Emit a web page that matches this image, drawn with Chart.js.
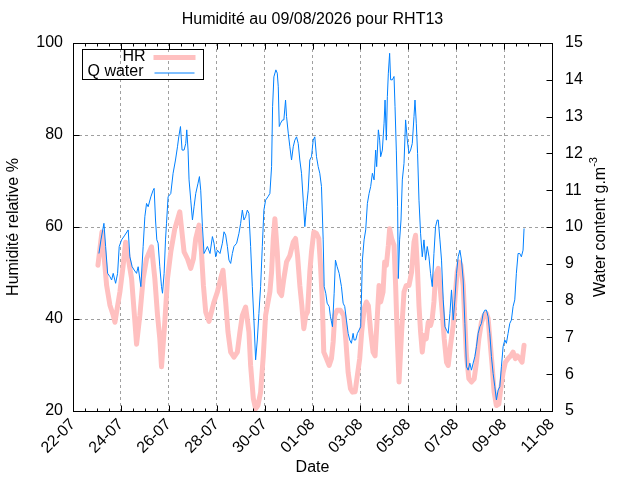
<!DOCTYPE html>
<html>
<head>
<meta charset="utf-8">
<script src="https://cdn.jsdelivr.net/npm/chart.js@4.4.1/dist/chart.umd.min.js"></script>
<style>
  body { margin: 0; background: #fff; }
  #wrap { width: 640px; height: 480px; }
</style>
</head>
<body>
<div id="wrap"><canvas id="myChart" width="640" height="480"></canvas></div>
<script>
// hours since 22-07 00:00
const tickLabels = ['22-07', '24-07', '26-07', '28-07', '30-07', '01-08', '03-08', '05-08', '07-08', '09-08', '11-08'];

const hrHours = [25, 29, 33.7, 37, 40.3, 42, 47, 50.3, 52.7, 58.7, 61.3, 63.7, 67, 70.3, 73.7, 78.7, 82, 84.7, 87, 88.7,
    92, 94.7, 98, 102, 107, 111.3, 114.7, 118, 120.7, 123, 126.3, 128.7, 130.7, 133, 136.3, 141.3, 144.7, 148, 150.3, 153,
    155.3, 158, 161.3, 164.7, 167.3, 169.7, 173, 176.3, 178, 180.7, 183, 185.3, 188, 190.7, 193, 197.3, 199, 200.7, 202.3, 204.7,
    206.7, 209, 211.3, 214, 217.3, 220.7, 223, 225, 227.3, 229.3, 231.3, 233.3, 235, 237.3, 239, 241.3, 244, 246.3, 248, 249.7,
    251.3, 254, 256.7, 259, 260.7, 262.3, 264.7, 268, 271.3, 273.3, 275.7, 278, 280, 282.7, 285, 287.3, 289.3, 291.7, 294, 296,
    298.3, 300.7, 302.7, 305, 306.7, 308.3, 310.7, 312.3, 314, 316, 317.3, 319.3, 321.7, 323.3, 325, 326.7, 329.3, 331.7, 334, 336.7,
    339.3, 341.7, 343.3, 345, 346.7, 348.3, 350, 351.7, 354, 356, 358.3, 360, 361.7, 363.3, 366, 367.7, 370, 372, 374.3, 376,
    378.3, 381, 382.7, 385, 387, 388.7, 391, 392.7, 394.3, 396.7, 399.3, 402, 404.3, 406.7, 409.3, 412, 414.3, 416, 417.7, 420,
    422, 424.3, 426.7, 428.7, 431, 433.3, 436, 438.7, 441, 443.3, 445.3, 447.7, 450, 452];
const hrValues = [51.7, 58.9, 47.3, 43, 40.8, 39.3, 45.9, 51.7, 56.7, 48.8, 41.5, 34.5, 40.8, 48.8, 53.1, 55.7, 48.8, 40.8, 35.7, 29.6,
    39.3, 48.8, 54.6, 59.6, 63.3, 54.6, 53.1, 51, 53.1, 57.5, 60.4, 54.6, 47.3, 41.5, 39.5, 43.7, 45.9, 48.8, 50.6, 43.7,
    37.2, 32.8, 31.7, 32.8, 37.2, 40.8, 42.6, 37.2, 29.9, 22.7, 20.5, 21.2, 24.1, 32, 40.8, 45.9, 50.2, 57.5, 61.8, 54.6,
    45.9, 45.1, 48.8, 52.4, 53.8, 56.7, 57.5, 53.8, 47.3, 43, 37.9, 40.8, 41.5, 50.2, 54.6, 58.9, 58.6, 57.5, 51.7, 44.4,
    32.8, 31.4, 29.9, 31.4, 35, 40.8, 41.9, 41.9, 40.8, 35.7, 28.4, 24.9, 24.1, 24.2, 27.8, 31.4, 37.2, 42.2, 43.7, 42.9,
    37.2, 32.8, 32, 40.8, 47.3, 43.7, 45.9, 52.4, 51.7, 56, 59.6, 57.5, 56, 47.3, 35.7, 26.3, 37.2, 45.9, 47.3, 47.3,
    50.2, 56.7, 58.2, 51.7, 42.9, 37.2, 32.8, 36.4, 35.7, 39.3, 38.6, 40.1, 43.7, 49.5, 51, 47.3, 41.5, 35.7, 30.6, 29.9,
    34.3, 38.6, 44.4, 50.2, 52.4, 51.7, 47.3, 39.3, 32, 27, 26.3, 27, 30.6, 35.7, 39.3, 40.8, 41.2, 40.1, 35.7, 29.9,
    24.1, 21.2, 21.5, 24.9, 28.4, 30.6, 31.4, 32, 32.8, 31.4, 32, 31.4, 30.6, 34.3];

const qwHours = [26, 28, 31, 32.7, 34.7, 37, 38.7, 40.3, 42.7, 44.7, 46.3, 48.7, 52, 55.3, 57, 59.3, 61.3, 63.7, 65.3, 68,
    70.3, 72, 73.7, 75.3, 78, 80.3, 81.3, 82.7, 84, 85.3, 87, 88.7, 89.7, 91.3, 92.7, 93.7, 95.3, 98, 100.3, 102.7,
    104.7, 106, 107.7, 109.3, 111.3, 113, 114, 115.3, 116.3, 118, 119.7, 121.3, 123, 125.3, 126.7, 128, 129.7, 131.3, 133, 134.7,
    137.3, 139.7, 141.3, 143, 144.7, 147.3, 149.7, 151.3, 153, 154.7, 156.3, 158, 159.7, 161.3, 164, 166.3, 168, 169.7, 171.3, 173,
    174.7, 176.3, 178, 179.7, 181.3, 183, 184.7, 186.3, 188, 189.7, 191.3, 193, 195.3, 197.3, 199, 200, 201.3, 203.3, 204.7, 205.7,
    206.7, 208, 210, 211.3, 213, 214, 215.7, 217.3, 219, 220.7, 222.3, 224, 225.7, 227.3, 229, 230.7, 232.3, 234, 235.7, 237.3,
    239, 240.7, 242.3, 244, 245.7, 247.3, 249, 250.7, 251.7, 253.3, 254.7, 256.7, 258, 260, 261.7, 263, 264.7, 266.7, 269, 270.7,
    272.3, 274, 275.7, 277.3, 279, 280.7, 281.7, 283.3, 285, 286.7, 288.3, 290, 291.7, 293.3, 295, 296.7, 298.3, 300, 301.7, 303.3,
    304.3, 306, 307.3, 308.3, 310, 311.7, 312.7, 314, 315, 316, 317.3, 318.3, 320, 321.7, 322.7, 324, 325.3, 326, 327.3, 328.7,
    330, 331.7, 333.3, 335, 336.7, 338.3, 340, 341.7, 342.7, 344, 345.3, 346.7, 348.3, 350, 351.7, 353.3, 355, 356.7, 358.3, 360,
    361.7, 363.3, 365, 366, 367.7, 369.3, 371, 372.7, 374.3, 376, 377.7, 379.3, 381, 382.7, 384.3, 386, 387.7, 389.3, 391, 392.7,
    394.3, 396, 397.7, 399.3, 401, 402.7, 404.3, 406, 407.7, 409.3, 411, 412.7, 414.3, 416, 417.7, 419.3, 421, 422.7, 424.3, 426,
    427.7, 429.3, 431, 432.7, 434.3, 436, 437.7, 439.3, 441, 442.7, 444.3, 446, 447.7, 449.3, 451, 452];
const qwValues = [9.28, 9.65, 10.1, 9.47, 8.74, 8.65, 8.56, 8.74, 8.47, 8.74, 9.47, 9.65, 9.78, 9.92, 9.19, 8.92, 8.83, 8.74, 8.92, 8.38,
    9.47, 10.28, 10.64, 10.55, 10.82, 11, 11.05, 10.19, 9.65, 9.56, 8.92, 8.38, 8.2, 8.74, 9.65, 10.1, 10.82, 10.91, 11.46, 11.82,
    12.18, 12.45, 12.73, 12.09, 12.09, 12.27, 12.64, 12.09, 11.28, 10.73, 10.19, 10.55, 10.91, 11.19, 11.37, 11, 10.01, 9.28, 9.37, 9.47,
    9.28, 9.74, 9.56, 9.19, 9.37, 9.28, 9.56, 9.87, 9.78, 9.47, 9.1, 9.01, 9.28, 9.47, 9.56, 9.83, 10.1, 10.46, 10.19, 10.28,
    10.46, 10.37, 9.47, 8.38, 7.47, 6.39, 6.93, 7.65, 8.38, 9.47, 10.46, 10.73, 10.82, 10.91, 11.64, 13.27, 14.08, 14.27, 14.18, 13.81,
    12.73, 12.82, 12.91, 12.91, 13.45, 13, 12.55, 12.18, 11.82, 12.18, 12.36, 12.45, 12.27, 11.82, 11.46, 10.73, 10.01, 10.55, 11, 11.82,
    11.91, 12.36, 12.45, 11.91, 11.64, 11.46, 11.1, 9.65, 8.38, 8.2, 7.93, 7.84, 7.56, 7.29, 8.2, 9.1, 8.92, 8.74, 8.38, 7.93,
    7.84, 7.47, 7.11, 6.93, 6.84, 7.11, 6.93, 6.93, 7.11, 7.2, 7.29, 9.1, 9.65, 9.92, 10.64, 10.91, 11.1, 11.46, 11.28, 12.09,
    11.64, 12.64, 12.36, 11.91, 12.09, 12.82, 13.45, 12.36, 13.54, 14.18, 14.72, 14, 14, 14.09, 13.27, 12.09, 10.55, 8.6, 9.65, 10.19,
    11.28, 11.73, 12.91, 12.36, 12, 12.09, 12.27, 13, 13.45, 12.82, 12, 10.73, 9.83, 9.19, 9.65, 9.1, 9.47, 9.19, 8.74, 8.38,
    9.28, 10.01, 10.19, 10.19, 9.65, 9.1, 8.02, 7.29, 7.2, 7.11, 7.65, 8.29, 7.47, 8.02, 8.74, 9.19, 9.37, 9.1, 8.56, 7.38,
    6.2, 6.11, 6.3, 6.11, 6.3, 6.48, 6.75, 7.11, 7.29, 7.38, 7.65, 7.74, 7.74, 7.56, 7.11, 6.48, 6.02, 5.66, 5.3, 5.57,
    5.66, 6.2, 6.75, 6.93, 6.84, 7.11, 7.38, 7.47, 7.84, 8.02, 8.74, 9.28, 9.28, 9.19, 9.37, 9.96];

const yTicks = [20, 40, 60, 80, 100];
const y2Ticks = [5, 6, 7, 8, 9, 10, 11, 12, 13, 14, 15];

const FONT = '"Liberation Sans", Arial, sans-serif';
const pinkColor = '#ffc0c0';
const blueColor = '#0080ff';

// inward tick marks and the plot frame, gnuplot style
const frameTicks = {
    id: 'frameTicks',
    afterDatasetsDraw(chart) {
        const ctx = chart.ctx;
        const a = chart.chartArea;
        const sx = chart.scales.x, sy = chart.scales.y, sy2 = chart.scales.y2;
        const L = Math.round(a.left) + 0.5, R = Math.round(a.right) + 0.5;
        const T = Math.round(a.top) + 0.5, B = Math.round(a.bottom) + 0.5;
        ctx.save();
        ctx.strokeStyle = '#000';
        ctx.lineWidth = 1;
        ctx.beginPath();
        for (let h = 0; h <= 480; h += 12) {
            const px = Math.round(sx.getPixelForValue(h)) + 0.5;
            const len = h % 48 === 0 ? 6 : 3;
            ctx.moveTo(px, B); ctx.lineTo(px, B - len);
            ctx.moveTo(px, T); ctx.lineTo(px, T + len);
        }
        yTicks.forEach(function (v) {
            const py = Math.round(sy.getPixelForValue(v)) + 0.5;
            ctx.moveTo(L, py); ctx.lineTo(L + 6, py);
        });
        y2Ticks.forEach(function (v) {
            const py = Math.round(sy2.getPixelForValue(v)) + 0.5;
            ctx.moveTo(R, py); ctx.lineTo(R - 6, py);
        });
        ctx.stroke();
        ctx.strokeRect(L, T, R - L, B - T);
        ctx.restore();
    }
};

// key box in the top left corner + right axis title with superscript
const keyAndTitle = {
    id: 'keyAndTitle',
    afterDraw(chart) {
        const ctx = chart.ctx;
        const a = chart.chartArea;
        const bx = Math.round(a.left) + 9.5, by = Math.round(a.top) + 6.5;
        ctx.save();
        ctx.strokeStyle = '#000';
        ctx.lineWidth = 1;
        ctx.strokeRect(bx, by, 121, 30);
        ctx.font = '16px ' + FONT;
        ctx.fillStyle = '#000';
        ctx.textAlign = 'right';
        ctx.textBaseline = 'middle';
        ctx.fillText('HR', bx + 63, by + 7);
        ctx.fillText('Q water', bx + 61, by + 22);
        ctx.lineWidth = 5;
        ctx.strokeStyle = pinkColor;
        ctx.beginPath(); ctx.moveTo(bx + 71, by + 8); ctx.lineTo(bx + 113, by + 8); ctx.stroke();
        ctx.lineWidth = 1;
        ctx.strokeStyle = blueColor;
        ctx.beginPath(); ctx.moveTo(bx + 72, by + 23.5); ctx.lineTo(bx + 112, by + 23.5); ctx.stroke();

        // right axis title
        const main = 'Water content g.m';
        const sup = '-3';
        ctx.font = '16px ' + FONT;
        const w1 = ctx.measureText(main).width;
        ctx.font = '11px ' + FONT;
        const w2 = ctx.measureText(sup).width;
        const cy = (a.top + a.bottom) / 2;
        ctx.translate(601, cy);
        ctx.rotate(-Math.PI / 2);
        ctx.textAlign = 'left';
        ctx.fillStyle = '#000';
        ctx.font = '16px ' + FONT;
        ctx.fillText(main, -(w1 + w2) / 2, 0);
        ctx.font = '11px ' + FONT;
        ctx.fillText(sup, -(w1 + w2) / 2 + w1, -7);
        ctx.restore();
    }
};

const hrData = hrHours.map(function (h, i) { return {x: h, y: hrValues[i]}; });
const qwData = qwHours.map(function (h, i) { return {x: h, y: qwValues[i]}; });

const config = {
    type: 'line',
    data: {
        datasets: [{
            label: 'Q water',
            data: qwData,
            yAxisID: 'y2',
            borderColor: blueColor,
            borderWidth: 1,
            pointRadius: 0,
            tension: 0,
            order: 0,
            clip: 0
        }, {
            label: 'HR',
            data: hrData,
            yAxisID: 'y',
            borderColor: pinkColor,
            borderWidth: 5,
            borderJoinStyle: 'round',
            borderCapStyle: 'round',
            pointRadius: 0,
            tension: 0,
            order: 1,
            clip: 0
        }]
    },
    options: {
        responsive: false,
        animation: false,
        devicePixelRatio: 1,
        layout: { padding: 0 },
        plugins: {
            legend: { display: false },
            tooltip: { enabled: false },
            title: {
                display: true,
                text: 'Humidité au 09/08/2026 pour RHT13',
                fullSize: false,
                color: '#000',
                font: { family: FONT, size: 16, weight: 'normal' },
                padding: { top: 10.4, bottom: 13.4 }
            }
        },
        scales: {
            x: {
                type: 'linear',
                min: 0,
                max: 480,
                afterFit: function (s) { s.height = 69; },
                ticks: {
                    stepSize: 48,
                    autoSkip: false,
                    maxRotation: 45,
                    minRotation: 45,
                    padding: 4,
                    color: '#000',
                    font: { family: FONT, size: 16 },
                    callback: function (v) { return tickLabels[Math.round(v / 48)]; }
                },
                grid: {
                    drawTicks: false,
                    color: function (c) {
                        return (c.tick && c.tick.value > 0 && c.tick.value < 480) ? '#a0a0a0' : 'rgba(0,0,0,0)';
                    }
                },
                border: { display: false, dash: [3, 3] },
                title: {
                    display: true,
                    text: 'Date',
                    color: '#000',
                    font: { family: FONT, size: 16 },
                    padding: { top: 0, bottom: 3 }
                }
            },
            y: {
                position: 'left',
                min: 20,
                max: 100,
                afterFit: function (s) { s.width = 73; },
                ticks: {
                    stepSize: 20,
                    padding: 10,
                    color: '#000',
                    font: { family: FONT, size: 16 }
                },
                grid: {
                    drawTicks: false,
                    color: function (c) {
                        return (c.tick && c.tick.value > 20 && c.tick.value < 100) ? '#a0a0a0' : 'rgba(0,0,0,0)';
                    }
                },
                border: { display: false, dash: [3, 3] },
                title: {
                    display: true,
                    text: 'Humidité relative %',
                    color: '#000',
                    font: { family: FONT, size: 16 },
                    padding: { top: 4, bottom: 0 }
                }
            },
            y2: {
                position: 'right',
                min: 5,
                max: 15,
                afterFit: function (s) { s.width = 88; },
                ticks: {
                    stepSize: 1,
                    padding: 13,
                    color: '#000',
                    font: { family: FONT, size: 16 }
                },
                grid: { display: false, drawTicks: false },
                border: { display: false }
            }
        }
    },
    plugins: [frameTicks, keyAndTitle]
};

const myChart = new Chart(document.getElementById('myChart'), config);
</script>
</body>
</html>
